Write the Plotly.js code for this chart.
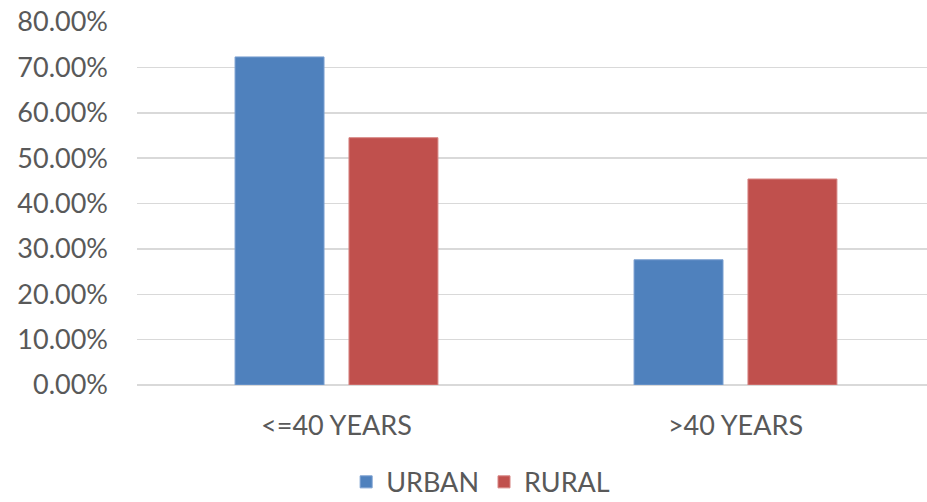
<!DOCTYPE html>
<html>
<head>
<meta charset="utf-8">
<script src="https://cdn.plot.ly/plotly-3.0.1.min.js"></script>
<style>html,body{margin:0;padding:0;background:#fff;}#chart{width:927px;height:502px;}</style>
</head>
<body>
<div id="chart"></div>
<script>
const categories = ["<=40 YEARS", ">40 YEARS"];
const urban = [0.723, 0.276];
const rural = [0.545, 0.454];
const yTicks = [0, 0.1, 0.2, 0.3, 0.4, 0.5, 0.6, 0.7, 0.8];

const font = {family: "Lato, 'Open Sans', sans-serif", size: 27, color: "#595959"};

const data = [
  {type: "bar", name: "URBAN", x: categories, y: urban,
   marker: {color: "#4F81BD", line: {color: "#7A9FD0", width: 1}}, hoverinfo: "none"},
  {type: "bar", name: "RURAL", x: categories, y: rural,
   marker: {color: "#C0504D", line: {color: "#D68482", width: 1}}, hoverinfo: "none"}
];

const layout = {
  width: 927, height: 502,
  margin: {l: 137, r: 0, t: 22, b: 117, autoexpand: false},
  paper_bgcolor: "#fff", plot_bgcolor: "#fff",
  font: font,
  barmode: "group",
  bargap: 0.429,
  bargroupgap: 0.219,
  showlegend: true,
  legend: {orientation: "h", x: 0.435, xanchor: "center", yref: "container", y: 0.088, yanchor: "top",
           font: font, itemwidth: 30, traceorder: "normal"},
  xaxis: {type: "category", range: [-0.5, 1.48], showgrid: false, zeroline: false,
          showline: false, ticks: "", tickfont: font, ticklabelstandoff: 22, fixedrange: true},
  yaxis: {range: [0, 0.8], tickvals: yTicks, tickformat: ".2%", showgrid: true,
          gridcolor: "#D9D9D9", gridwidth: 1.5, zeroline: true, zerolinecolor: "#D9D9D9",
          zerolinewidth: 1.5, showline: false, ticks: "", tickfont: font,
          ticklabelstandoff: 28, fixedrange: true}
};

Plotly.newPlot("chart", data, layout, {displayModeBar: false, staticPlot: true});
</script>
</body>
</html>
